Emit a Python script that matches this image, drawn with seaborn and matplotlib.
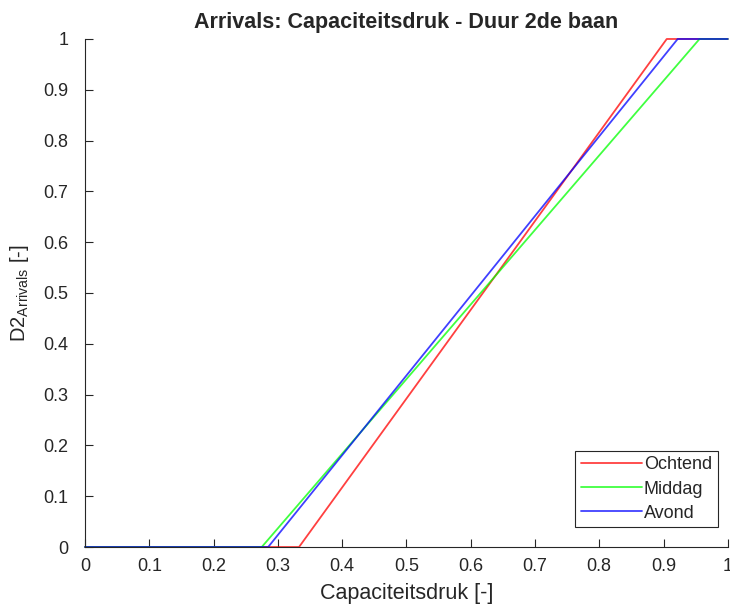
import seaborn as sns
import matplotlib.pyplot as plt
import pandas as pd
import numpy as np

# breakpoints
x_ochtend = [0.0, 0.333, 0.905, 1.0]
y_ochtend = [0.0, 0.0, 1.0, 1.0]
x_middag = [0.0, 0.275, 0.956, 1.0]
y_middag = [0.0, 0.0, 1.0, 1.0]
x_avond = [0.0, 0.285, 0.922, 1.0]
y_avond = [0.0, 0.0, 1.0, 1.0]

series = ['Ochtend', 'Middag', 'Avond']
colors = {'Ochtend': '#ff0000', 'Middag': '#00ff00', 'Avond': '#0000ff'}
tick_labels = ['0', '0.1', '0.2', '0.3', '0.4', '0.5', '0.6', '0.7', '0.8', '0.9', '1']


def run():
    df = pd.concat([
        pd.DataFrame({'x': x_ochtend, 'y': y_ochtend, 'periode': 'Ochtend'}),
        pd.DataFrame({'x': x_middag, 'y': y_middag, 'periode': 'Middag'}),
        pd.DataFrame({'x': x_avond, 'y': y_avond, 'periode': 'Avond'}),
    ], ignore_index=True)

    sns.set_style('ticks')
    plt.rcParams['font.family'] = ['Liberation Sans', 'DejaVu Sans']

    fig = plt.figure(figsize=(7.3, 6.12), dpi=100)
    ax = fig.add_axes([0.1164, 0.1062, 0.8806, 0.8301])
    sns.lineplot(data=df, x='x', y='y', hue='periode', hue_order=series,
                 palette=colors, sort=False, estimator=None, linewidth=1.3,
                 alpha=0.75, ax=ax)
    for line in ax.lines:
        line.set_clip_on(False)

    ax.set_xlim(0, 1)
    ax.set_ylim(0, 1)
    ax.set_xticks(np.arange(0, 1.01, 0.1))
    ax.set_yticks(np.arange(0, 1.01, 0.1))
    ax.set_xticklabels(tick_labels)
    ax.set_yticklabels(tick_labels)
    ax.tick_params(direction='in', length=6, width=0.8, labelsize=13,
                   colors='#262626', pad=8)
    ax.tick_params(axis='y', pad=12)
    sns.despine(ax=ax)
    for s in ['left', 'bottom']:
        ax.spines[s].set_color('#262626')
        ax.spines[s].set_linewidth(0.8)

    ax.set_xlabel('Capaciteitsdruk [-]', fontsize=15.5, color='#262626', labelpad=6)
    ax.set_ylabel(r'D2$_{\mathregular{Arrivals}}$ [-]', fontsize=14.5, color='#262626',
                  labelpad=9)
    ax.set_title('Arrivals: Capaciteitsdruk - Duur 2de baan', fontsize=15.5,
                 fontweight='bold', pad=8)

    leg = ax.legend(loc='lower right', bbox_to_anchor=(0.984, 0.039), fontsize=13,
                    frameon=True, fancybox=False, edgecolor='#262626', framealpha=1,
                    handlelength=3.4, borderaxespad=0.0, labelspacing=0.4,
                    handletextpad=0.1, borderpad=0.3)
    leg.set_title(None)
    leg.get_frame().set_linewidth(0.8)

    fig.savefig('out.png', dpi=100)


run()
